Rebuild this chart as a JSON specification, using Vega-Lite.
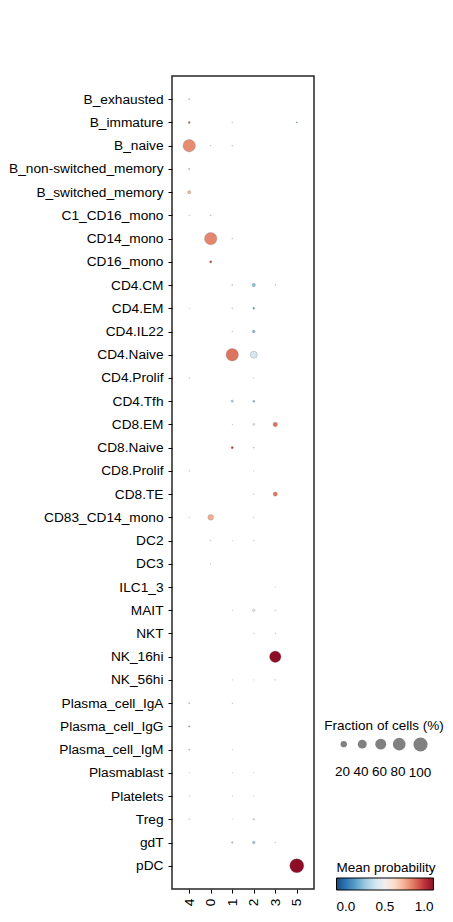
{
  "$schema": "https://vega.github.io/schema/vega-lite/v6.json",
  "autosize": {"type": "none"},
  "padding": {"left": 172, "top": 76, "right": 139, "bottom": 33},
  "width": 142,
  "height": 813,
  "config": {
    "font": "Liberation Sans",
    "view": {"stroke": "#262626", "strokeWidth": 1.5},
    "axis": {"labelFontSize": 13.7, "labelColor": "#000000", "tickColor": "#000000", "tickSize": 4, "labelPadding": 5, "domain": false, "grid": false, "title": null},
    "legend": {"titleFontWeight": "normal", "titleFontSize": 13.5, "labelFontSize": 13.5, "titleColor": "#000000", "labelColor": "#000000"}
  },
  "data": {"values": [
    {"cell": "B_exhausted", "cluster": "4", "fraction": 0.8, "prob": 0.35},
    {"cell": "B_immature", "cluster": "4", "fraction": 2, "prob": 0.85},
    {"cell": "B_immature", "cluster": "1", "fraction": 0.3, "prob": 0.5},
    {"cell": "B_immature", "cluster": "5", "fraction": 0.8, "prob": 0.2},
    {"cell": "B_naive", "cluster": "4", "fraction": 77, "prob": 0.76},
    {"cell": "B_naive", "cluster": "0", "fraction": 0.3, "prob": 0.5},
    {"cell": "B_naive", "cluster": "1", "fraction": 0.5, "prob": 0.5},
    {"cell": "B_non-switched_memory", "cluster": "4", "fraction": 1, "prob": 0.3},
    {"cell": "B_switched_memory", "cluster": "4", "fraction": 5, "prob": 0.68},
    {"cell": "C1_CD16_mono", "cluster": "4", "fraction": 0.3, "prob": 0.5},
    {"cell": "C1_CD16_mono", "cluster": "0", "fraction": 0.6, "prob": 0.6},
    {"cell": "CD14_mono", "cluster": "0", "fraction": 77, "prob": 0.77},
    {"cell": "CD14_mono", "cluster": "1", "fraction": 0.4, "prob": 0.5},
    {"cell": "CD16_mono", "cluster": "0", "fraction": 2.5, "prob": 0.9},
    {"cell": "CD4.CM", "cluster": "1", "fraction": 0.6, "prob": 0.45},
    {"cell": "CD4.CM", "cluster": "2", "fraction": 6, "prob": 0.28},
    {"cell": "CD4.CM", "cluster": "3", "fraction": 0.4, "prob": 0.45},
    {"cell": "CD4.EM", "cluster": "4", "fraction": 0.2, "prob": 0.5},
    {"cell": "CD4.EM", "cluster": "1", "fraction": 0.5, "prob": 0.5},
    {"cell": "CD4.EM", "cluster": "2", "fraction": 1.8, "prob": 0.2},
    {"cell": "CD4.IL22", "cluster": "1", "fraction": 0.3, "prob": 0.5},
    {"cell": "CD4.IL22", "cluster": "2", "fraction": 4, "prob": 0.27},
    {"cell": "CD4.Naive", "cluster": "1", "fraction": 77, "prob": 0.8},
    {"cell": "CD4.Naive", "cluster": "2", "fraction": 25, "prob": 0.42},
    {"cell": "CD4.Prolif", "cluster": "4", "fraction": 0.4, "prob": 0.5},
    {"cell": "CD4.Prolif", "cluster": "2", "fraction": 0.2, "prob": 0.5},
    {"cell": "CD4.Tfh", "cluster": "1", "fraction": 2.5, "prob": 0.32},
    {"cell": "CD4.Tfh", "cluster": "2", "fraction": 2, "prob": 0.25},
    {"cell": "CD8.EM", "cluster": "1", "fraction": 0.2, "prob": 0.5},
    {"cell": "CD8.EM", "cluster": "2", "fraction": 2, "prob": 0.45},
    {"cell": "CD8.EM", "cluster": "3", "fraction": 10, "prob": 0.8},
    {"cell": "CD8.Naive", "cluster": "1", "fraction": 2.5, "prob": 0.9},
    {"cell": "CD8.Naive", "cluster": "2", "fraction": 0.6, "prob": 0.45},
    {"cell": "CD8.Prolif", "cluster": "4", "fraction": 0.4, "prob": 0.5},
    {"cell": "CD8.Prolif", "cluster": "2", "fraction": 0.2, "prob": 0.5},
    {"cell": "CD8.TE", "cluster": "2", "fraction": 0.3, "prob": 0.5},
    {"cell": "CD8.TE", "cluster": "3", "fraction": 9, "prob": 0.8},
    {"cell": "CD83_CD14_mono", "cluster": "4", "fraction": 0.3, "prob": 0.5},
    {"cell": "CD83_CD14_mono", "cluster": "0", "fraction": 16, "prob": 0.7},
    {"cell": "CD83_CD14_mono", "cluster": "2", "fraction": 0.2, "prob": 0.5},
    {"cell": "DC2", "cluster": "0", "fraction": 0.3, "prob": 0.5},
    {"cell": "DC2", "cluster": "1", "fraction": 0.1, "prob": 0.5},
    {"cell": "DC2", "cluster": "2", "fraction": 0.3, "prob": 0.5},
    {"cell": "DC3", "cluster": "0", "fraction": 0.3, "prob": 0.5},
    {"cell": "ILC1_3", "cluster": "3", "fraction": 0.1, "prob": 0.5},
    {"cell": "MAIT", "cluster": "1", "fraction": 0.2, "prob": 0.5},
    {"cell": "MAIT", "cluster": "2", "fraction": 3, "prob": 0.5},
    {"cell": "MAIT", "cluster": "3", "fraction": 0.3, "prob": 0.5},
    {"cell": "NKT", "cluster": "2", "fraction": 0.3, "prob": 0.5},
    {"cell": "NKT", "cluster": "3", "fraction": 0.3, "prob": 0.5},
    {"cell": "NK_16hi", "cluster": "3", "fraction": 66, "prob": 1.0},
    {"cell": "NK_56hi", "cluster": "1", "fraction": 0.1, "prob": 0.5},
    {"cell": "NK_56hi", "cluster": "2", "fraction": 0.1, "prob": 0.5},
    {"cell": "NK_56hi", "cluster": "3", "fraction": 0.3, "prob": 0.5},
    {"cell": "Plasma_cell_IgA", "cluster": "4", "fraction": 0.5, "prob": 0.3},
    {"cell": "Plasma_cell_IgA", "cluster": "1", "fraction": 0.2, "prob": 0.5},
    {"cell": "Plasma_cell_IgG", "cluster": "4", "fraction": 1, "prob": 0.8},
    {"cell": "Plasma_cell_IgM", "cluster": "4", "fraction": 0.6, "prob": 0.7},
    {"cell": "Plasma_cell_IgM", "cluster": "1", "fraction": 0.1, "prob": 0.5},
    {"cell": "Plasmablast", "cluster": "4", "fraction": 0.1, "prob": 0.5},
    {"cell": "Plasmablast", "cluster": "1", "fraction": 0.1, "prob": 0.5},
    {"cell": "Plasmablast", "cluster": "2", "fraction": 0.1, "prob": 0.5},
    {"cell": "Platelets", "cluster": "4", "fraction": 0.2, "prob": 0.5},
    {"cell": "Platelets", "cluster": "1", "fraction": 0.2, "prob": 0.5},
    {"cell": "Platelets", "cluster": "2", "fraction": 0.1, "prob": 0.5},
    {"cell": "Treg", "cluster": "4", "fraction": 0.3, "prob": 0.5},
    {"cell": "Treg", "cluster": "1", "fraction": 0.1, "prob": 0.5},
    {"cell": "Treg", "cluster": "2", "fraction": 1.2, "prob": 0.6},
    {"cell": "gdT", "cluster": "1", "fraction": 1.2, "prob": 0.3},
    {"cell": "gdT", "cluster": "2", "fraction": 3.5, "prob": 0.3},
    {"cell": "gdT", "cluster": "3", "fraction": 0.3, "prob": 0.5},
    {"cell": "pDC", "cluster": "5", "fraction": 100, "prob": 1.0}
  ]},
  "mark": {"type": "circle", "opacity": 1, "stroke": "#777777", "strokeWidth": 0.3},
  "encoding": {
    "x": {"field": "cluster", "type": "nominal", "sort": ["4", "0", "1", "2", "3", "5"],
      "scale": {"type": "point", "padding": 0.8},
      "axis": {"labelAngle": -90, "title": null}},
    "y": {"field": "cell", "type": "nominal",
      "sort": ["B_exhausted", "B_immature", "B_naive", "B_non-switched_memory", "B_switched_memory", "C1_CD16_mono", "CD14_mono", "CD16_mono", "CD4.CM", "CD4.EM", "CD4.IL22", "CD4.Naive", "CD4.Prolif", "CD4.Tfh", "CD8.EM", "CD8.Naive", "CD8.Prolif", "CD8.TE", "CD83_CD14_mono", "DC2", "DC3", "ILC1_3", "MAIT", "NKT", "NK_16hi", "NK_56hi", "Plasma_cell_IgA", "Plasma_cell_IgG", "Plasma_cell_IgM", "Plasmablast", "Platelets", "Treg", "gdT", "pDC"],
      "scale": {"type": "point", "padding": 1.03},
      "axis": {"title": null}},
    "size": {"field": "fraction", "type": "quantitative",
      "scale": {"domain": [0, 100], "range": [0, 200], "zero": true},
      "legend": {"title": "Fraction of cells (%)", "orient": "none", "legendX": 152, "legendY": 643,
        "direction": "horizontal", "values": [20, 40, 60, 80, 100],
        "symbolFillColor": "#808080", "symbolStrokeColor": "#808080", "symbolStrokeWidth": 0, "symbolOpacity": 1,
        "labelAlign": "center", "labelOffset": -8, "columnPadding": 1.5, "titlePadding": 4.5,
        "titleAnchor": "middle", "titleAlign": "center",
        "encoding": {"labels": {"dy": {"value": 28}}, "symbols": {"size": {"value": {"expr": "datum.value * 1.12"}}}}}},
    "color": {"field": "prob", "type": "quantitative",
      "scale": {"scheme": "redblue", "reverse": true, "domain": [0, 1]},
      "legend": {"title": "Mean probability", "orient": "none", "legendX": 164.5, "legendY": 785,
        "direction": "horizontal", "gradientLength": 97, "gradientThickness": 12,
        "gradientStrokeColor": "#000000", "gradientStrokeWidth": 1,
        "values": [0, 0.5, 1], "format": ".1f", "labelAlign": "center", "labelOffset": 9.5, "titlePadding": 3.5}}
  }
}
